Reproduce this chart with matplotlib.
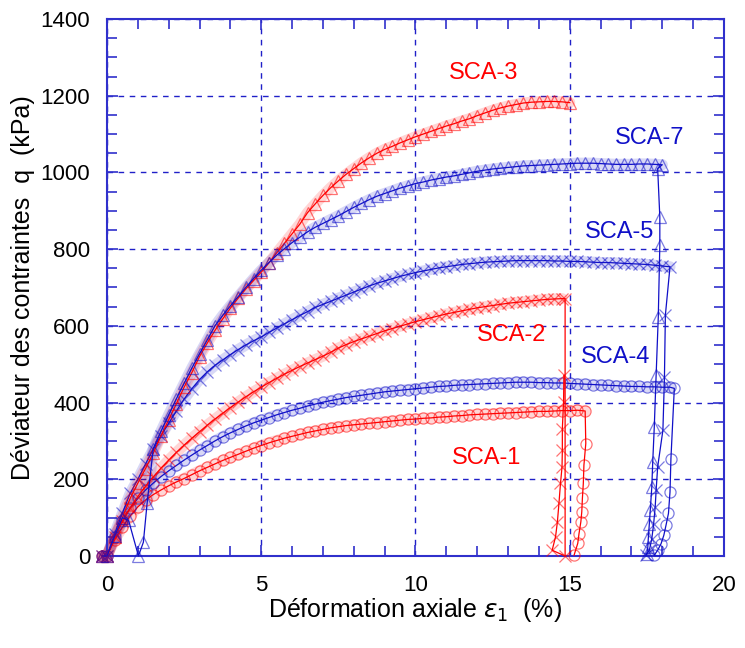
import matplotlib
matplotlib.use("Agg")
import matplotlib.pyplot as plt
from matplotlib.ticker import MultipleLocator

# ======================
# DONNEES
# ======================
# grille de deformation commune (%)
eps_grid = [-0.15, 0, 0.25, 0.5, 0.75, 1, 1.25, 1.5, 1.75, 2, 2.25, 2.5, 2.75, 3,
            3.25, 3.5, 3.75, 4, 4.25, 4.5, 4.75, 5, 5.25, 5.5, 5.75, 6, 6.25, 6.5,
            6.75, 7, 7.25, 7.5, 7.75, 8, 8.25, 8.5, 8.75, 9, 9.25, 9.5, 9.75, 10,
            10.25, 10.5, 10.75, 11, 11.25, 11.5, 11.75, 12, 12.25, 12.5, 12.75, 13,
            13.25, 13.5, 13.75, 14, 14.25, 14.5, 14.75, 15, 15.25, 15.5, 15.75, 16,
            16.25, 16.5, 16.75, 17, 17.25, 17.5, 17.75, 18, 18.25]

q_sca1 = [0, 0, 42, 75, 104, 128, 146, 160, 172, 183, 193, 202, 212, 222, 231, 240,
          249, 257, 265, 273, 281, 288, 295, 301, 307, 312, 317, 322, 326, 330, 334,
          337, 340, 342, 344, 346, 348, 350, 352, 354, 356, 357, 359, 360, 362, 363,
          365, 366, 368, 369, 370, 371, 372, 373, 374, 375, 376, 377, 377, 378, 379,
          379, 380, 378]
eps_sca1_rupt = [15.52, 15.46, 15.44, 15.41, 15.39, 15.36, 15.3, 15.26, 15.14]
q_sca1_rupt = [293, 237, 189, 150, 115, 89, 58, 33, 2]

q_sca2 = [0, 0, 50, 90, 125, 155, 182, 206, 229, 250, 270, 289, 307, 324, 341, 357,
          372, 387, 401, 415, 428, 440, 452, 463, 474, 484, 494, 503, 512, 521, 531,
          542, 551, 559, 566, 573, 580, 587, 593, 599, 605, 611, 616, 621, 626, 631,
          635, 639, 643, 647, 650, 653, 656, 659, 661, 663, 665, 667, 669, 670, 671]
eps_sca2_rupt = [14.85, 14.85, 14.43, 14.54, 14.6, 14.65, 14.7, 14.75, 14.76, 14.76,
                 14.8, 14.81]
q_sca2_rupt = [671, 0, 15, 50, 89, 137, 189, 232, 276, 332, 402, 471]

q_sca3 = [0, 0, 50, 100, 150, 190, 228, 268, 313, 355, 397, 440, 478, 520, 555, 588,
          618, 646, 672, 696, 718, 740, 764, 790, 815, 840, 865, 895, 918, 940, 960,
          978, 995, 1010, 1025, 1038, 1050, 1060, 1068, 1077, 1085, 1093, 1100, 1107,
          1114, 1121, 1127, 1134, 1140, 1148, 1155, 1162, 1168, 1173, 1177, 1181,
          1183, 1184, 1185, 1185, 1184, 1182]

q_sca4 = [0, 0, 50, 90, 125, 150, 172, 190, 207, 222, 236, 250, 263, 276, 288, 300,
          311, 321, 330, 339, 347, 354, 361, 368, 374, 380, 385, 391, 396, 401, 405,
          409, 413, 416, 419, 422, 425, 428, 430, 432, 434, 436, 438, 440, 442, 443,
          445, 446, 447, 448, 449, 450, 451, 452, 453, 453, 453, 452, 452, 451, 451,
          450, 449, 448, 447, 446, 445, 444, 443, 442, 442, 441, 441, 440, 440]
eps_sca4_rupt = [18.39, 18.28, 18.25, 18.2, 18.12, 18.05, 17.96, 17.85, 17.74]
q_sca4_rupt = [437, 254, 167, 111, 80, 54, 32, 15, 2]

q_sca5 = [0, 0, 58, 112, 163, 200, 240, 278, 314, 346, 378, 409, 436, 460, 480, 497,
          511, 525, 538, 550, 561, 571, 583, 594, 605, 616, 627, 637, 648, 656, 664,
          672, 680, 688, 696, 704, 711, 717, 723, 729, 734, 739, 743, 747, 751, 754,
          757, 760, 762, 764, 766, 767, 768, 769, 770, 770, 770, 770, 770, 769, 769,
          768, 768, 767, 766, 765, 765, 764, 763, 762, 761, 760, 758, 756, 754]
eps_sca5_rupt = [18.1, 18.07, 18.02, 17.85, 17.8, 17.77, 17.72, 17.66, 17.58, 17.47]
q_sca5_rupt = [628, 467, 328, 232, 171, 128, 84, 45, 15, 2]

# SCA-7 : debut irregulier (reprise a ~1 %)
eps_sca7_debut = [-0.15, 0, 0.25, 0.5, 0.7, 1.02, 1.18, 1.3]
q_sca7_debut = [0, 0, 52, 100, 93, 0, 36, 137]
q_sca7 = [280, 325, 368, 410, 450, 490, 527, 563, 600, 627, 652, 676, 700, 723, 745,
          765, 784, 801, 817, 831, 845, 857, 867, 877, 887, 898, 909, 919, 929, 938,
          945, 952, 959, 965, 971, 975, 980, 984, 988, 991, 995, 999, 1003, 1006,
          1009, 1011, 1013, 1015, 1017, 1018, 1019, 1020, 1021, 1022, 1023, 1024,
          1024, 1024, 1023, 1022, 1021, 1021, 1021, 1022, 1022, 1021, 1020]
eps_sca7_rupt = [17.85, 17.92, 17.92, 17.87, 17.8, 17.74, 17.69, 17.66, 17.61, 17.58,
                 17.55, 17.53, 17.5]
q_sca7_rupt = [1010, 884, 810, 623, 471, 336, 245, 180, 119, 84, 50, 23, 6]

noms = ["SCA-1", "SCA-2", "SCA-3", "SCA-4", "SCA-5", "SCA-7"]
pos_noms = [(12.3, 255), (13.1, 576), (12.2, 1259), (16.5, 518), (16.6, 844), (17.6, 1089)]

ROUGE = "#ff0000"
BLEU = "#1010c8"

# ======================
# FIGURE
# ======================
plt.rcParams["font.family"] = ["Liberation Sans", "DejaVu Sans"]
fig = plt.figure(figsize=(7.45, 6.48), dpi=100)
ax = fig.add_axes([0.1436, 0.142, 0.8282, 0.8287])


def tracer(eps, q, i0, i1, couleur, marqueur, taille=8):
    # bande claire sous la partie chargement (effet nuage de points serres)
    ax.plot(eps[i0:i1], q[i0:i1], color=couleur, lw=8, alpha=0.16,
            solid_capstyle="round", zorder=2, clip_on=False)
    ax.plot(eps, q, color=couleur, lw=0.9, zorder=3, clip_on=False)
    ax.plot(eps, q, ls="none", marker=marqueur, ms=taille, mfc="none",
            mec=couleur, mew=0.9, alpha=0.55, zorder=3, clip_on=False)


n7 = len(q_sca7_debut)
series = [
    (eps_grid[:len(q_sca1)] + eps_sca1_rupt, q_sca1 + q_sca1_rupt, 0, len(q_sca1), ROUGE, "o"),
    (eps_grid[:len(q_sca4)] + eps_sca4_rupt, q_sca4 + q_sca4_rupt, 0, len(q_sca4), BLEU, "o"),
    (eps_grid[:len(q_sca2)] + eps_sca2_rupt, q_sca2 + q_sca2_rupt, 0, len(q_sca2), ROUGE, "x"),
    (eps_grid[:len(q_sca5)] + eps_sca5_rupt, q_sca5 + q_sca5_rupt, 0, len(q_sca5), BLEU, "x"),
    (eps_grid[:len(q_sca3)], q_sca3, 0, len(q_sca3), ROUGE, "^"),
    (eps_sca7_debut + eps_grid[7:7 + len(q_sca7)] + eps_sca7_rupt,
     q_sca7_debut + q_sca7 + q_sca7_rupt, n7 - 1, n7 + len(q_sca7), BLEU, "^"),
]
for eps, q, i0, i1, c, m in series:
    tracer(eps, q, i0, i1, c, m, 9 if m == "x" else 8)

for nom, (x, y) in zip(noms, pos_noms):
    c = ROUGE if nom in ("SCA-1", "SCA-2", "SCA-3") else BLEU
    ax.text(x, y, nom, color=c, fontsize=17, ha="center", va="center", zorder=5)

ax.set_xlim(0, 20)
ax.set_ylim(0, 1400)
ax.xaxis.set_major_locator(MultipleLocator(5))
ax.xaxis.set_minor_locator(MultipleLocator(1))
ax.yaxis.set_major_locator(MultipleLocator(200))
ax.yaxis.set_minor_locator(MultipleLocator(50))

ax.grid(True, which="major", color="#2020c8", ls=(0, (4, 4)), lw=1.0)
for s in ax.spines.values():
    s.set_color("#3030cc")
    s.set_linewidth(1.5)
ax.tick_params(which="both", direction="in", top=True, right=True,
               color="#3030cc", labelsize=16, width=1.2)
ax.tick_params(axis="x", which="major", length=8, pad=14)
ax.tick_params(axis="y", which="major", length=8, pad=12)
ax.tick_params(which="minor", length=7)

ax.set_xlabel(r"Déformation axiale $\varepsilon_1$  (%)", fontsize=18, labelpad=0)
ax.set_ylabel("Déviateur des contraintes  q  (kPa)", fontsize=18, labelpad=4)

fig.savefig("out.png", dpi=100)
